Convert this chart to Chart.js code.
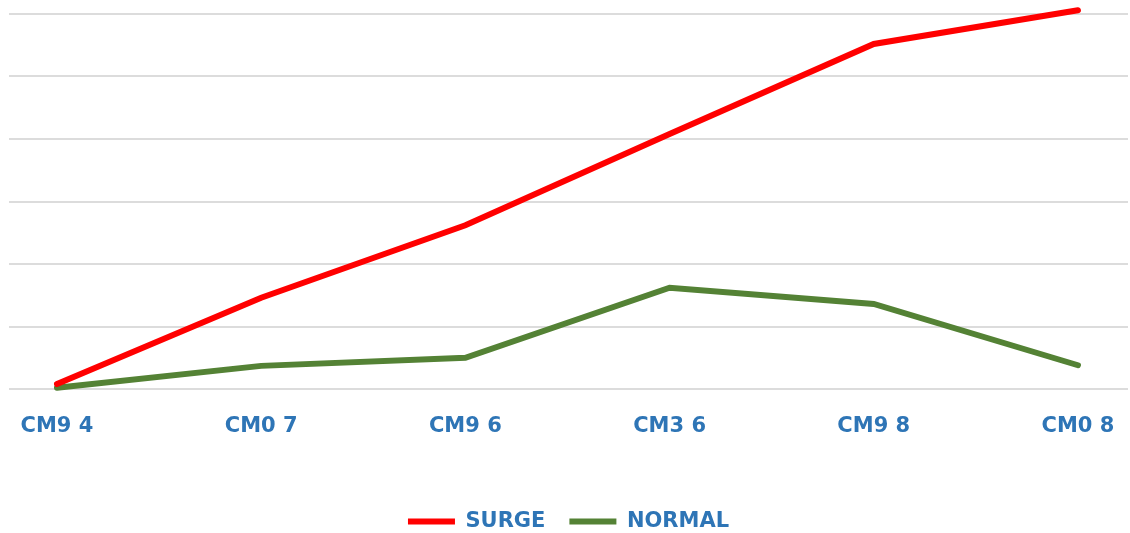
<!DOCTYPE html>
<html>
<head>
<meta charset="utf-8">
<script src="https://cdn.jsdelivr.net/npm/chart.js@4/dist/chart.umd.min.js"></script>
<style>
  html, body { margin: 0; padding: 0; background: #ffffff; }
  #wrap { width: 1130px; height: 533px; }
</style>
</head>
<body>
<div id="wrap"><canvas id="chart" width="1130" height="533"></canvas></div>
<script>
// Categories along the bottom axis
const categories = ['CM9 4', 'CM0 7', 'CM9 6', 'CM3 6', 'CM9 8', 'CM0 8'];

// Series values
const surgeValues  = [0.8, 14.6, 26.2, 40.8, 55.2, 60.6];
const normalValues = [0.2, 3.7, 5.0, 16.2, 13.6, 3.8];

// Value axis grid (no labels shown)
const yMin = 0;
const yMax = 60;
const yStep = 10;

const labelBlue = '#2e75b6';
const toPoints = (vals) => vals.map((v, i) => ({ x: i, y: v }));

new Chart(document.getElementById('chart'), {
  type: 'line',
  data: {
    datasets: [
      {
        label: 'SURGE',
        data: toPoints(surgeValues),
        borderColor: '#ff0000',
        backgroundColor: '#ff0000',
        borderWidth: 6,
        borderCapStyle: 'round',
        pointRadius: 0,
        tension: 0,
        clip: false
      },
      {
        label: 'NORMAL',
        data: toPoints(normalValues),
        borderColor: '#548235',
        backgroundColor: '#548235',
        borderWidth: 6,
        borderCapStyle: 'round',
        pointRadius: 0,
        tension: 0,
        clip: false
      }
    ]
  },
  options: {
    responsive: false,
    animation: false,
    devicePixelRatio: 1,
    layout: { padding: { top: 14, left: 9, right: 2, bottom: -9 } },
    scales: {
      x: {
        type: 'linear',
        min: -0.235,
        max: 5.245,
        grid: { display: false, drawTicks: false },
        border: { display: false },
        afterBuildTicks: (scale) => {
          scale.ticks = categories.map((_, i) => ({ value: i }));
        },
        afterFit: (scale) => {
          scale.height = 98;
          scale.paddingLeft = 0;
          scale.paddingRight = 0;
        },
        ticks: {
          padding: 25,
          autoSkip: false,
          maxRotation: 0,
          color: labelBlue,
          font: { family: 'DejaVu Sans', size: 21, weight: 'bold' },
          callback: (v) => categories[v]
        }
      },
      y: {
        min: yMin,
        max: yMax,
        ticks: { display: false, stepSize: yStep },
        grid: { color: '#dcdcdc', lineWidth: 2, drawTicks: false },
        border: { display: false },
        afterFit: (scale) => { scale.width = 0; }
      }
    },
    plugins: {
      tooltip: { enabled: false },
      legend: {
        position: 'bottom',
        labels: {
          usePointStyle: true,
          pointStyle: 'line',
          pointStyleWidth: 47,
          boxHeight: 7,
          padding: 24,
          color: labelBlue,
          font: { family: 'DejaVu Sans', size: 21, weight: 'bold' }
        }
      }
    }
  }
});
</script>
</body>
</html>
